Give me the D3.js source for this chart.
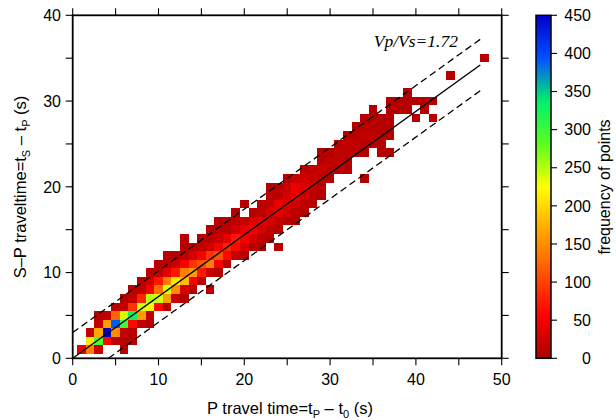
<!DOCTYPE html>
<html>
<head>
<meta charset="utf-8">
<script src="https://cdn.jsdelivr.net/npm/d3@7"></script>
<style>
  body { margin: 0; background: #fff; }
</style>
</head>
<body>
<svg id="chart" width="616" height="420" font-family="'Liberation Sans', Arial, sans-serif"></svg>
<script>
// ---- data: 1 s x 1 s histogram of S-P time vs P travel time ----
// each row is one S-P bin (centre, s); tp lists the P-time bin centres, counts the hits
const spRows = [1,2,3,4,5,6,7,8,9,10,11,12,13,14,15,16,17,18,19,20,21,22,23,24,25,26,27,28,29,30,31,33,35];
const tpByRow = [
  [1,2,3,6],
  [2,3,4,5,6,7],
  [2,3,4,5,6,7],
  [3,4,5,6,7,8,9],
  [3,4,5,6,7,8,9],
  [5,6,7,8,9,10,11],
  [6,7,8,9,10,11,12,13],
  [7,8,9,10,11,12,13,14,16],
  [8,9,10,11,12,13,14,15],
  [9,10,11,12,13,14,15,16,17],
  [10,11,12,13,14,15,16,17,18],
  [11,12,13,14,15,16,17,18,19,20],
  [13,14,15,16,17,18,19,20,21,22,24],
  [13,15,16,17,18,19,20,21,22,23],
  [16,17,18,19,20,21,22,23,24],
  [17,18,19,20,21,22,23,24,25,26],
  [19,21,22,23,24,25,26,27],
  [20,22,23,24,25,26,27,28],
  [23,24,25,26,27,28,29],
  [23,24,25,26,27,28,29],
  [25,26,27,28,29,30,34],
  [27,28,29,30,31,32],
  [29,30,31,32],
  [29,30,31,32,33,34,36,37],
  [31,32,33,34,35,36],
  [32,33,34,35,36,37],
  [33,34,35,36,37],
  [34,35,36,37,40,42],
  [35,37,38,39,41],
  [37,38,39,40,41,42],
  [39],
  [44],
  [48]
];
const countsByRow = [
  [40,140,20,8],
  [210,290,60,12,10,8],
  [15,165,450,150,15,10],
  [15,160,390,300,60,12,8],
  [10,15,120,240,330,160,15],
  [10,15,90,240,230,60,10],
  [10,15,80,250,240,160,20,8],
  [10,15,50,130,240,150,30,10,8],
  [10,30,70,140,210,180,50,10],
  [10,15,40,70,140,160,70,20,8],
  [10,12,20,50,90,110,140,50,10],
  [8,10,15,30,50,90,110,60,20,8],
  [10,10,15,25,50,80,60,30,10,8,8],
  [8,8,12,20,40,70,50,30,12,8],
  [8,10,12,25,40,50,30,15,8],
  [8,10,12,20,35,40,30,15,8,8],
  [8,10,12,30,40,25,12,8],
  [8,10,15,45,35,25,12,8],
  [10,12,30,45,25,12,8],
  [8,10,20,45,35,20,8],
  [10,20,25,20,12,8,8],
  [10,15,20,15,10,8],
  [10,15,15,8],
  [8,10,15,15,10,8,8,8],
  [10,15,15,12,8,8],
  [8,10,15,12,8,8],
  [8,10,10,8,8],
  [8,8,8,8,8,8],
  [8,8,8,8,8],
  [8,8,8,8,8,8],
  [8],
  [8],
  [8]
];

// reference lines: Vp/Vs = 1.72 and a +/-3 s envelope
const vpvs = 1.72;
const envelope = 3;
const lineTp = [0, 47.5];

// axis ticks
const xMajor = [0,10,20,30,40,50];
const yMajor = [0,10,20,30,40];
const xMinor = [5,15,25,35,45];
const yMinor = [5,15,25,35];
const cbarTicks = [0,50,100,150,200,250,300,350,400,450];

// seis-style palette
const paletteStops = [0,56.25,112.5,168.75,225,281.25,337.5,393.75,450];
const paletteColors = ["#aa0000","#ff0000","#ff5500","#ffaa00","#ffff00","#5aff1e","#00f06e","#0050ff","#0000cd"];

// ---- drawing ----
const svg = d3.select("#chart");
const plot = {left: 72.7, right: 501.7, top: 15.3, bottom: 358.3};
const x = d3.scaleLinear().domain([0,50]).range([plot.left, plot.right]);
const y = d3.scaleLinear().domain([0,40]).range([plot.bottom, plot.top]);
const color = d3.scaleLinear().domain(paletteStops).range(paletteColors).clamp(true);

const cells = [];
spRows.forEach((sp, r) => {
  tpByRow[r].forEach((tp, k) => cells.push({tp, sp, n: countsByRow[r][k]}));
});

svg.append("g").selectAll("rect").data(cells).join("rect")
  .attr("x", d => x(d.tp - 0.5))
  .attr("y", d => y(d.sp + 0.5))
  .attr("width", d => x(d.tp + 0.5) - x(d.tp - 0.5))
  .attr("height", d => y(d.sp - 0.5) - y(d.sp + 0.5))
  .attr("fill", d => color(d.n))
  .attr("shape-rendering", "crispEdges");

// lines
const lineGen = d3.line().x(d => x(d[0])).y(d => y(d[1]));
const mainLine = lineTp.map(t => [t, (vpvs - 1) * t]);
const upper = lineTp.map(t => [t, (vpvs - 1) * t + envelope]);
const lowStart = envelope / (vpvs - 1);
const lower = [lowStart, lineTp[1]].map(t => [t, (vpvs - 1) * t - envelope]);

svg.append("path").attr("d", lineGen(mainLine))
  .attr("fill","none").attr("stroke","#000").attr("stroke-width",1.4);
[upper, lower].forEach(pts => {
  svg.append("path").attr("d", lineGen(pts))
    .attr("fill","none").attr("stroke","#000").attr("stroke-width",1.3)
    .attr("stroke-dasharray","7,4");
});

// frame + ticks on all sides
const frame = svg.append("g");
const tickLen = 7;
const allX = xMajor.concat(xMinor), allY = yMajor.concat(yMinor);
allX.forEach(v => {
  frame.append("line").attr("x1", x(v)).attr("x2", x(v)).attr("y1", plot.bottom).attr("y2", plot.bottom + tickLen);
  frame.append("line").attr("x1", x(v)).attr("x2", x(v)).attr("y1", plot.top).attr("y2", plot.top - tickLen);
});
allY.forEach(v => {
  frame.append("line").attr("y1", y(v)).attr("y2", y(v)).attr("x1", plot.left).attr("x2", plot.left - tickLen);
  frame.append("line").attr("y1", y(v)).attr("y2", y(v)).attr("x1", plot.right).attr("x2", plot.right + tickLen);
});
frame.selectAll("line").attr("stroke","#000").attr("stroke-width",1.1);
frame.append("rect")
  .attr("x", plot.left).attr("y", plot.top)
  .attr("width", plot.right - plot.left).attr("height", plot.bottom - plot.top)
  .attr("fill","none").attr("stroke","#000").attr("stroke-width",1.8);

// tick labels
svg.append("g").selectAll("text").data(xMajor).join("text")
  .attr("x", d => x(d)).attr("y", 384.5)
  .attr("text-anchor","middle").attr("font-size",16).text(d => d);
svg.append("g").selectAll("text").data(yMajor).join("text")
  .attr("x", 61).attr("y", d => y(d) + 5.7)
  .attr("text-anchor","end").attr("font-size",16).text(d => d);

// axis titles
const xt = svg.append("text").attr("x", 290).attr("y", 414).attr("text-anchor","middle").attr("font-size",16.5);
xt.append("tspan").text("P travel time=t");
xt.append("tspan").attr("font-size",11).attr("dy",4).text("P");
xt.append("tspan").attr("dy",-4).text(" – t");
xt.append("tspan").attr("font-size",11).attr("dy",4).text("0");
xt.append("tspan").attr("dy",-4).text(" (s)");

const yt = svg.append("text").attr("transform","translate(26,187) rotate(-90)")
  .attr("text-anchor","middle").attr("font-size",16.5);
yt.append("tspan").text("S–P traveltime=t");
yt.append("tspan").attr("font-size",11).attr("dy",4).text("S");
yt.append("tspan").attr("dy",-4).text(" – t");
yt.append("tspan").attr("font-size",11).attr("dy",4).text("P");
yt.append("tspan").attr("dy",-4).text(" (s)");

// ratio annotation
svg.append("text").attr("x", 458).attr("y", 47).attr("text-anchor","end")
  .style("font-family","'Liberation Serif', 'Times New Roman', serif")
  .style("font-style","italic").attr("font-size",17.5).text("Vp/Vs=" + vpvs.toFixed(2));

// colour bar
const cb = {left: 536, right: 551};
const cy = d3.scaleLinear().domain([0,450]).range([plot.bottom, plot.top]);
const grad = svg.append("defs").append("linearGradient").attr("id","cbgrad")
  .attr("x1",0).attr("y1",1).attr("x2",0).attr("y2",0);
d3.range(0, 451, 5).forEach(v => {
  grad.append("stop").attr("offset", v / 450).attr("stop-color", color(v));
});
svg.append("rect").attr("x", cb.left).attr("y", plot.top)
  .attr("width", cb.right - cb.left).attr("height", plot.bottom - plot.top)
  .attr("fill","url(#cbgrad)").attr("stroke","#000").attr("stroke-width",1.5);
svg.append("g").selectAll("line").data(cbarTicks).join("line")
  .attr("x1", cb.right).attr("x2", cb.right + 6)
  .attr("y1", d => cy(d)).attr("y2", d => cy(d))
  .attr("stroke","#000").attr("stroke-width",1.1);
svg.append("g").selectAll("text").data(cbarTicks).join("text")
  .attr("x", 591).attr("y", d => cy(d) + 5.7)
  .attr("text-anchor","end").attr("font-size",16).text(d => d);
svg.append("text").attr("transform","translate(610,187) rotate(-90)")
  .attr("text-anchor","middle").attr("font-size",16).text("frequency of points");
</script>
</body>
</html>
